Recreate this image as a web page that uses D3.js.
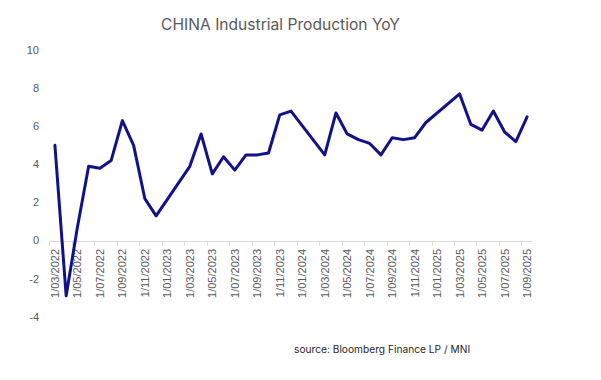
<!DOCTYPE html>
<html>
<head>
<meta charset="utf-8">
<script src="https://cdn.jsdelivr.net/npm/d3@7"></script>
<style>
  body { margin: 0; background: #fff; }
  svg { display: block; }
</style>
</head>
<body>
<svg id="chart" width="601" height="380"></svg>
<script>
// Monthly observations (Jan/Feb not reported separately)
const months = [
  "2022-03","2022-04","2022-05","2022-06","2022-07","2022-08","2022-09","2022-10","2022-11","2022-12",
  "2023-03","2023-04","2023-05","2023-06","2023-07","2023-08","2023-09","2023-10","2023-11","2023-12",
  "2024-03","2024-04","2024-05","2024-06","2024-07","2024-08","2024-09","2024-10","2024-11","2024-12",
  "2025-03","2025-04","2025-05","2025-06","2025-07","2025-08","2025-09"
];
const ipYoY = [
  5.0, -2.9, 0.7, 3.9, 3.8, 4.2, 6.3, 5.0, 2.2, 1.3,
  3.9, 5.6, 3.5, 4.4, 3.7, 4.5, 4.5, 4.6, 6.6, 6.8,
  4.5, 6.7, 5.6, 5.3, 5.1, 4.5, 5.4, 5.3, 5.4, 6.2,
  7.7, 6.1, 5.8, 6.8, 5.7, 5.2, 6.5
];
const tickLabels = [
  "1/03/2022","1/05/2022","1/07/2022","1/09/2022","1/11/2022",
  "1/01/2023","1/03/2023","1/05/2023","1/07/2023","1/09/2023","1/11/2023",
  "1/01/2024","1/03/2024","1/05/2024","1/07/2024","1/09/2024","1/11/2024",
  "1/01/2025","1/03/2025","1/05/2025","1/07/2025","1/09/2025"
];
const yTicks = [-4, -2, 0, 2, 4, 6, 8, 10];
const title = "CHINA Industrial Production YoY";
const source = "source: Bloomberg Finance LP / MNI";

const startYear = 2022, startMonth = 3, nMonths = 43;
function monthIndex(s) {
  const p = s.split("-");
  return (+p[0] - startYear) * 12 + (+p[1] - startMonth);
}
function labelIndex(s) {
  const p = s.split("/");
  return (+p[2] - startYear) * 12 + (+p[1] - startMonth);
}

const svg = d3.select("#chart");
const x = d3.scaleLinear().domain([0, nMonths]).range([49.3, 532.7]);
const y = d3.scaleLinear().domain([-4, 10]).range([316.8, 50.1]);

const titleFont = "Inter, 'Open Sans', sans-serif";
const tickFont = "'Liberation Sans', Arial, sans-serif";
const grey = "#595959";

// title
svg.append("text")
  .attr("x", 280.5).attr("y", 30)
  .attr("text-anchor", "middle")
  .attr("font-family", titleFont)
  .attr("font-size", 15.6)
  .attr("fill", grey)
  .text(title);

// y tick labels
svg.append("g").selectAll("text")
  .data(yTicks).join("text")
  .attr("x", 39).attr("y", d => y(d))
  .attr("dy", "0.35em")
  .attr("text-anchor", "end")
  .attr("font-family", tickFont)
  .attr("font-size", 11)
  .attr("fill", grey)
  .text(d => d);

// x axis at zero
const y0 = Math.round(y(0)) + 0.5;
svg.append("line")
  .attr("x1", x(0)).attr("x2", x(nMonths))
  .attr("y1", y0).attr("y2", y0)
  .attr("stroke", "#d9d9d9").attr("stroke-width", 1);

svg.append("g").selectAll("line")
  .data(tickLabels).join("line")
  .attr("x1", d => Math.round(x(labelIndex(d))) + 0.5)
  .attr("x2", d => Math.round(x(labelIndex(d))) + 0.5)
  .attr("y1", y0).attr("y2", y0 + 4)
  .attr("stroke", "#d9d9d9").attr("stroke-width", 1);

svg.append("g").selectAll("text")
  .data(tickLabels).join("text")
  .attr("transform", d => `translate(${x(labelIndex(d) + 0.5) + 4},${y0 + 7.5}) rotate(-90)`)
  .attr("text-anchor", "end")
  .attr("font-family", tickFont)
  .attr("font-size", 11)
  .attr("fill", grey)
  .text(d => d);

// line
const data = months.map((m, i) => ({ i: monthIndex(m), v: ipYoY[i] }));
const line = d3.line().x(d => x(d.i + 0.5)).y(d => y(d.v));
svg.append("path")
  .datum(data)
  .attr("d", line)
  .attr("fill", "none")
  .attr("stroke", "#121288")
  .attr("stroke-width", 3)
  .attr("stroke-linejoin", "round")
  .attr("stroke-linecap", "round");

// source
svg.append("text")
  .attr("x", 294).attr("y", 353)
  .attr("font-family", titleFont)
  .attr("font-size", 10.2)
  .attr("fill", "#262626")
  .text(source);
</script>
</body>
</html>
